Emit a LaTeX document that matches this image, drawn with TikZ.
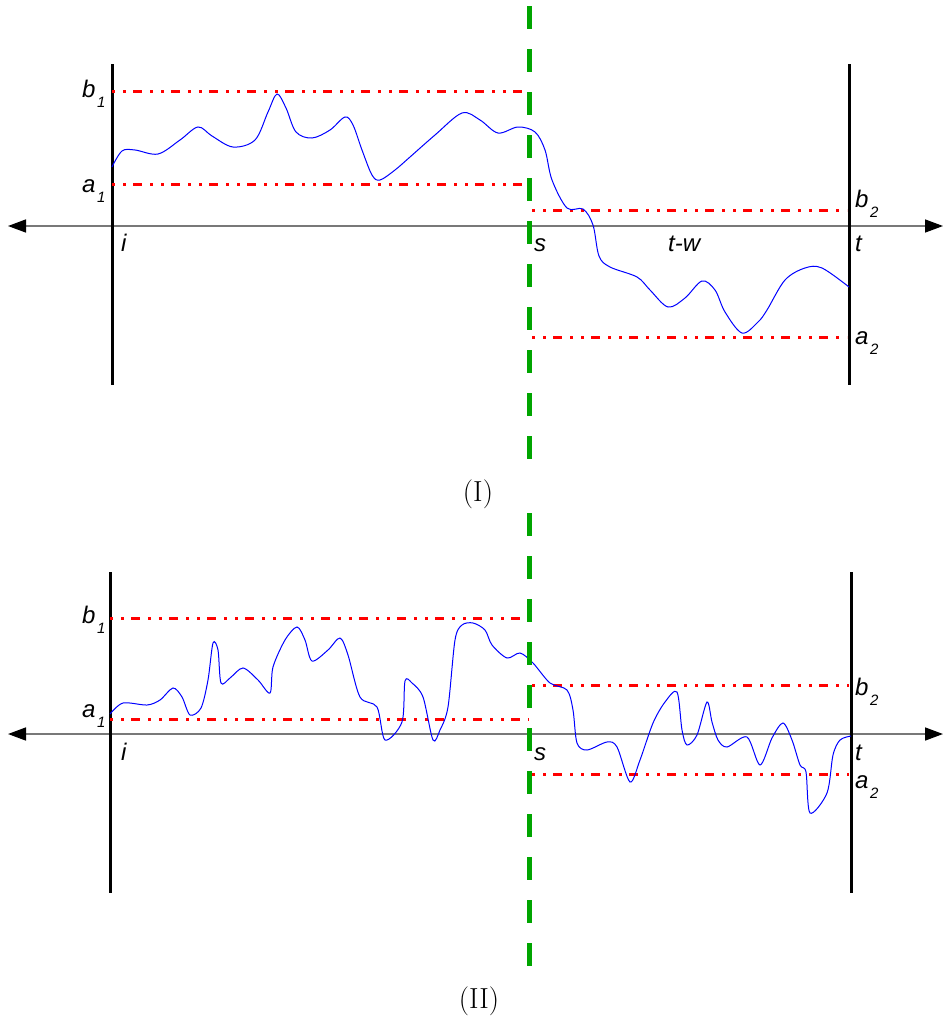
\documentclass[tikz,border=0pt]{standalone}
\usepackage{fontspec}
\newfontfamily\arialf{Liberation Sans}
\usetikzlibrary{arrows.meta}
\definecolor{axisgray}{RGB}{120,120,120}
\definecolor{dgreen}{RGB}{0,165,0}
\newcommand\lbl[2]{{\arialf\itshape #1\kern1.5pt\raisebox{-10pt}{\fontsize{15}{15}\selectfont #2}}}
\tikzset{
  axisline/.style={draw=axisgray,line width=1.5pt,{Triangle[length=18pt,width=13pt,color=black]}-{Triangle[length=18pt,width=13pt,color=black]}},
  bar/.style={draw=black,line width=3pt},
  level/.style={draw=red,line width=3pt,dash pattern=on 3pt off 8pt on 3pt off 7pt on 9pt off 8pt},
  split/.style={draw=dgreen,line width=5pt,dash pattern=on 23pt off 20pt},
  walk/.style={draw=blue,line width=1pt},
  lab/.style={anchor=base west,inner sep=0pt,font=\fontsize{24}{24}\selectfont},
  captext/.style={anchor=base,inner sep=0pt,font=\fontsize{29}{29}\selectfont}
}
\begin{document}
\begin{tikzpicture}[x=1pt,y=-1pt]
\useasboundingbox (0,0) rectangle (943,1020);
% ---------- Panel I ----------
\coordinate (AL1) at (8,226); \coordinate (AR1) at (943,226);
\draw[axisline] (AL1) -- (AR1);
\coordinate (LT1) at (112,64); \coordinate (LB1) at (112,385);
\coordinate (RT1) at (849.5,64); \coordinate (RB1) at (849.5,385);
\draw[bar] (LT1) -- (LB1);
\draw[bar] (RT1) -- (RB1);
\coordinate (b1s) at (112,91); \coordinate (b1e) at (529,91);
\coordinate (a1s) at (112,184); \coordinate (a1e) at (529,184);
\coordinate (b2s) at (532,210); \coordinate (b2e) at (847,210);
\coordinate (a2s) at (532,337); \coordinate (a2e) at (847,337);
\draw[level] (b1s) -- (b1e);
\draw[level] (a1s) -- (a1e);
\draw[level] (b2s) -- (b2e);
\draw[level] (a2s) -- (a2e);
\draw[walk] plot[smooth,tension=0.55] coordinates {
(112,167) (122,151) (135,150) (158,154) (180,140) (198,127) (212,136) (233,147) (255,140) (268,112) (277,94) (286,108) (296,132) (312,138) (330,130) (345,117) (353,125) (362,150) (372,175) (380,180) (395,170) (410,157) (435,135) (462,113) (480,120) (498,133) (518,127) (535,132) (545,150) (552,180) (567,208) (583,209) (593,225) (599,256) (610,267) (637,277) (650,290) (668,307) (685,298) (702,281) (715,290) (725,312) (742,333) (758,322) (767,310) (785,280) (805,268) (822,268) (849,287)};
\node[lab] (lb1) at (82,97) {\lbl{b}{1}};
\node[lab] (la1) at (82,192) {\lbl{a}{1}};
\node[lab] (lb2) at (855,207) {\lbl{b}{2}};
\node[lab] (la2) at (855,344) {\lbl{a}{2}};
\node[lab] (li1) at (121,251) {\arialf\itshape i};
\node[lab] (ls1) at (534,251) {\arialf\itshape s};
\node[lab] (ltw) at (668,251) {\arialf\itshape t-w};
\node[lab] (lt1) at (855,251) {\arialf\itshape t};
\node[captext] (capI) at (478,501) {(I)};
% ---------- Panel II ----------
\coordinate (AL2) at (8,734); \coordinate (AR2) at (943,734);
\draw[axisline] (AL2) -- (AR2);
\coordinate (LT2) at (110,572); \coordinate (LB2) at (110,893);
\coordinate (RT2) at (851.5,572); \coordinate (RB2) at (851.5,893);
\draw[bar] (LT2) -- (LB2);
\draw[bar] (RT2) -- (RB2);
\coordinate (c1s) at (110,618); \coordinate (c1e) at (529,618);
\coordinate (d1s) at (110,719); \coordinate (d1e) at (529,719);
\coordinate (c2s) at (532,685); \coordinate (c2e) at (849,685);
\coordinate (d2s) at (532,774); \coordinate (d2e) at (849,774);
\draw[level] (c1s) -- (c1e);
\draw[level] (d1s) -- (d1e);
\draw[level] (c2s) -- (c2e);
\draw[level] (d2s) -- (d2e);
\draw[walk] plot[smooth,tension=0.5] coordinates {
(110,714) (123,703) (147,705) (160,700) (173,688) (182,697) (190,715) (201,708) (208,680) (213,643) (218,650) (221,683) (230,678) (243,668) (258,680) (270,693) (273,667) (285,640) (297,627) (305,640) (312,661) (328,650) (340,638) (348,655) (360,697) (377,707) (385,740) (402,722) (405,681) (412,683) (423,697) (433,740) (440,730) (448,707) (455,640) (462,625) (473,623) (485,630) (492,645) (507,658) (520,653) (533,663) (550,683) (567,690) (573,710) (577,743) (587,750) (607,742) (617,747) (630,782) (640,760) (653,723) (665,702) (677,692) (682,730) (687,745) (697,735) (707,702) (712,722) (718,740) (727,747) (747,737) (760,765) (772,738) (783,723) (792,740) (800,765) (806,772) (810,813) (827,793) (833,755) (840,740) (851,736)};
\node[lab] (mb1) at (82,623) {\lbl{b}{1}};
\node[lab] (ma1) at (82,717) {\lbl{a}{1}};
\node[lab] (mb2) at (855,695) {\lbl{b}{2}};
\node[lab] (ma2) at (855,788) {\lbl{a}{2}};
\node[lab] (mi2) at (121,760) {\arialf\itshape i};
\node[lab] (ms2) at (534,760) {\arialf\itshape s};
\node[lab] (mt2) at (855,760) {\arialf\itshape t};
\node[captext] (capII) at (479,1008) {(II)};
% ---------- separator ----------
\coordinate (g1t) at (529.5,6); \coordinate (g1b) at (529.5,460);
\coordinate (g2t) at (529.5,513); \coordinate (g2b) at (529.5,967);
\draw[split] (g1t) -- (g1b);
\draw[split] (g2t) -- (g2b);
\end{tikzpicture}
\end{document}
